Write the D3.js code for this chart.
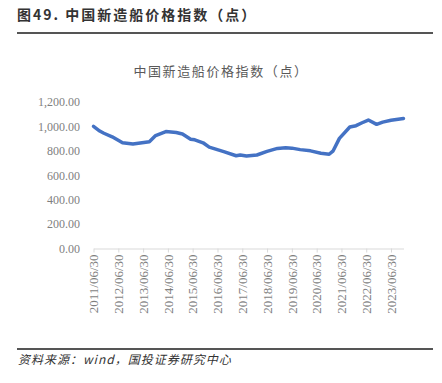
<!DOCTYPE html>
<html>
<head>
<meta charset="utf-8">
<script src="https://cdn.jsdelivr.net/npm/d3@7"></script>
<style>
  body { margin: 0; background: #fff; }
  svg { display: block; }
</style>
</head>
<body>
<div id="chart"></div>
<script>
// 中国新造船价格指数 (点)
var dates = ["2011-06-30","2011-09-30","2011-11-30","2012-03-31","2012-08-31","2013-01-31",
             "2013-09-30","2013-12-31","2014-05-31","2014-10-31","2015-01-31","2015-05-31",
             "2015-07-31","2015-11-30","2016-02-29","2016-09-30","2017-03-31","2017-05-31",
             "2017-08-31","2018-01-31","2018-06-30","2018-11-30","2019-03-31","2019-06-30",
             "2019-10-31","2020-03-31","2020-08-31","2020-12-31","2021-02-28","2021-05-31",
             "2021-10-31","2022-01-31","2022-04-30","2022-07-31","2022-11-30","2023-02-28",
             "2023-06-30","2023-12-31"];
var values = [1000, 962, 944, 915, 866, 856,
              875, 925, 958, 950, 938, 895,
              890, 866, 830, 793, 760, 766,
              758, 766, 795, 820, 826, 822,
              810, 800, 780, 772, 800, 902,
              995, 1006, 1030, 1052, 1017, 1035,
              1050, 1064];
var yTicks = [0, 200, 400, 600, 800, 1000, 1200];
var xTickLabels = ["2011/06/30","2012/06/30","2013/06/30","2014/06/30","2015/06/30","2016/06/30",
                   "2017/06/30","2018/06/30","2019/06/30","2020/06/30","2021/06/30","2022/06/30","2023/06/30"];

var W = 442, H = 383;
var parse = d3.timeParse("%Y-%m-%d");
var tickParse = d3.timeParse("%Y/%m/%d");
var data = dates.map(function(d, i){ return {date: parse(d), value: values[i]}; });

var svg = d3.select("#chart").append("svg")
    .attr("width", W)
    .attr("height", H);

var cjk = "'Noto Sans CJK SC', 'Noto Sans', sans-serif";
var serif = "'Liberation Serif', 'DejaVu Serif', serif";

// header
svg.append("text")
    .attr("x", 17)
    .attr("y", 20)
    .text("图49. 中国新造船价格指数（点）")
    .style("font-family", cjk)
    .style("font-size", "14px")
    .style("font-weight", "bold")
    .style("letter-spacing", "2px")
    .style("fill", "#333");

svg.append("line")
    .attr("x1", 17).attr("x2", 433)
    .attr("y1", 33).attr("y2", 33)
    .attr("stroke", "#555")
    .attr("stroke-width", 2);

// chart title
svg.append("text")
    .attr("x", 221)
    .attr("y", 76)
    .attr("text-anchor", "middle")
    .text("中国新造船价格指数（点）")
    .style("font-family", cjk)
    .style("font-size", "13px")
    .style("letter-spacing", "1.6px")
    .style("fill", "#595959");

var x = d3.scaleTime()
    .domain([parse("2011-06-30"), parse("2023-12-31")])
    .range([93.5, 403.5]);

var y = d3.scaleLinear()
    .domain([0, 1200])
    .range([248.5, 102]);

// y axis labels (no axis line)
var yAxis = svg.append("g")
    .attr("transform", "translate(80,0)")
    .call(d3.axisLeft(y).tickValues(yTicks).tickSize(0).tickPadding(0)
        .tickFormat(function(d){ return d3.format(",.2f")(d); }));
yAxis.select(".domain").remove();
yAxis.selectAll("text")
    .style("font-family", serif)
    .style("font-size", "12px")
    .style("fill", "#7f7f7f");

// x axis
var xAxis = svg.append("g")
    .attr("transform", "translate(0,248.5)")
    .call(d3.axisBottom(x)
        .tickValues(xTickLabels.map(function(s){ return tickParse(s); }))
        .tickSize(4)
        .tickSizeOuter(0)
        .tickFormat(d3.timeFormat("%Y/%m/%d")));
xAxis.select(".domain").attr("stroke", "#d9d9d9");
xAxis.selectAll(".tick line").attr("stroke", "#d9d9d9");
xAxis.selectAll("text")
    .attr("transform", "rotate(-90)")
    .attr("text-anchor", "end")
    .attr("x", -6)
    .attr("y", 0)
    .attr("dy", "0.32em")
    .style("font-family", serif)
    .style("font-size", "13px")
    .style("fill", "#7f7f7f");

// line
var line = d3.line()
    .x(function(d){ return x(d.date); })
    .y(function(d){ return y(d.value); });

svg.append("path")
    .datum(data)
    .attr("d", line)
    .attr("fill", "none")
    .attr("stroke", "#4472c4")
    .attr("stroke-width", 3.5)
    .attr("stroke-linejoin", "round")
    .attr("stroke-linecap", "round");

// footer
svg.append("line")
    .attr("x1", 17).attr("x2", 433)
    .attr("y1", 349).attr("y2", 349)
    .attr("stroke", "#555")
    .attr("stroke-width", 2);

svg.append("text")
    .attr("x", 18)
    .attr("y", 364)
    .text("资料来源：wind，国投证券研究中心")
    .style("font-family", cjk)
    .style("font-size", "12px")
    .style("font-style", "italic")
    .style("letter-spacing", "1px")
    .style("fill", "#333");
</script>
</body>
</html>
